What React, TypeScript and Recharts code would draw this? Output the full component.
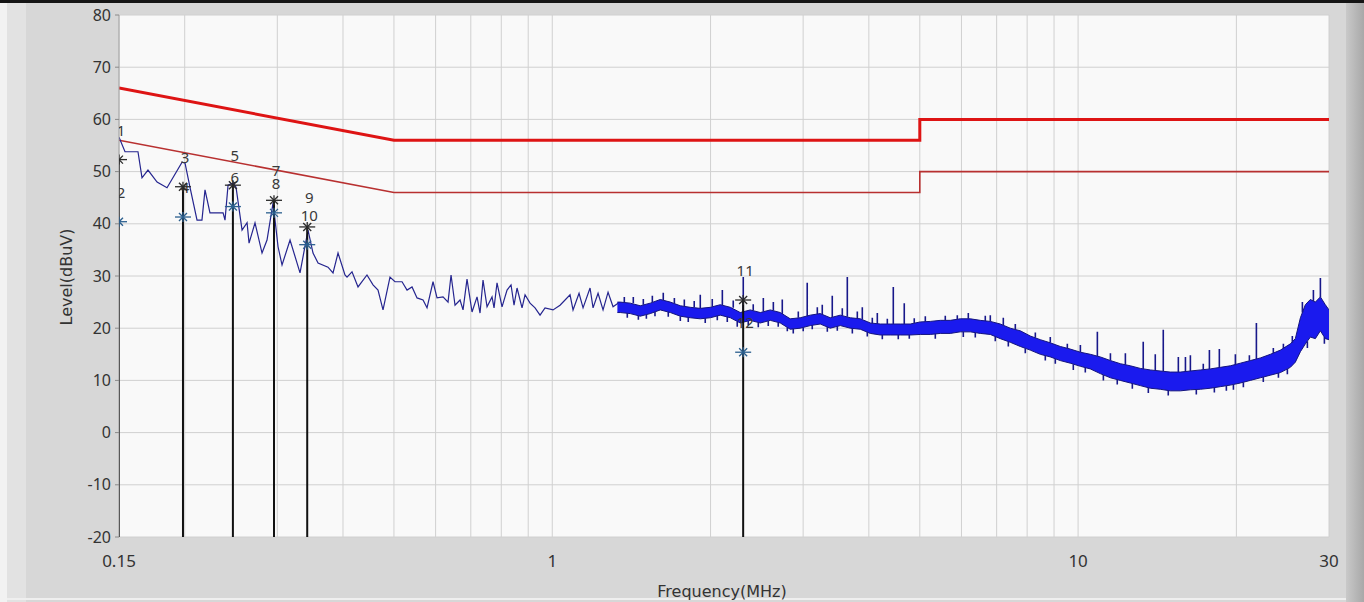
import React from "react";
import { Area, CartesianGrid, ComposedChart, Label, Line, Scatter, XAxis, YAxis } from "recharts";

// axis grid (log decades) and the few labelled ticks
const xGrid = [0.15, 0.2, 0.3, 0.4, 0.5, 0.6, 0.7, 0.8, 0.9, 1, 2, 3, 4, 5, 6, 7, 8, 9, 10, 20, 30];
const xLabels = [0.15, 1, 10, 30];
const yTicks = [-20, -10, 0, 10, 20, 30, 40, 50, 60, 70, 80];

// limit lines (QP thick, AV thin)
const limitFreq = [0.15, 0.5, 5, 5, 30];
const qpLimit = [66, 56, 56, 60, 60];
const avLimit = [56, 46, 46, 50, 50];

// low frequency trace
const traceFreq = [
  0.15, 0.154, 0.163, 0.1659, 0.1703, 0.1772, 0.1851, 0.1977, 0.2003, 0.2047, 0.2111, 0.2157, 0.2186, 0.2234,
  0.2366, 0.2386, 0.2418, 0.2472, 0.2504, 0.2571, 0.2628, 0.2651, 0.2721, 0.2806, 0.2868, 0.2945, 0.301, 0.3063,
  0.3172, 0.3314, 0.3432, 0.3508, 0.3586, 0.3746, 0.3829, 0.3914, 0.4035, 0.4071, 0.4161, 0.4272, 0.4443, 0.4562,
  0.4663, 0.4766, 0.4914, 0.5023, 0.518, 0.5295, 0.5412, 0.5532, 0.5679, 0.5779, 0.5933, 0.6038, 0.6199, 0.6336,
  0.642, 0.6533, 0.6678, 0.6766, 0.6885, 0.7038, 0.7194, 0.7289, 0.7385, 0.7516, 0.7682, 0.775, 0.7852, 0.8026,
  0.8204, 0.8349, 0.8459, 0.8571, 0.8761, 0.8877, 0.9073, 0.9274, 0.9479, 0.9689, 1.0034, 1.0347, 1.081, 1.0953,
  1.1245, 1.1444, 1.18, 1.1956, 1.2221, 1.2491, 1.2768, 1.305, 1.3339
];
const traceLevel = [
  56.6, 53.8, 53.8, 48.8, 50.3, 48.0, 46.9, 51.8, 51.6, 47.0, 40.7, 40.7, 46.5, 42.1,
  42.1, 40.7, 47.4, 47.8, 47.0, 38.8, 40.2, 36.3, 40.2, 34.4, 36.9, 44.0, 35.6, 32.1,
  36.9, 30.6, 38.8, 34.4, 32.5, 31.7, 30.6, 34.4, 30.2, 29.8, 30.8, 27.9, 30.2, 28.3,
  27.3, 23.5, 29.8, 28.9, 28.9, 27.3, 27.9, 25.8, 25.4, 23.9, 28.9, 25.8, 26.0, 25.0,
  30.2, 24.4, 25.4, 23.5, 29.4, 23.1, 26.0, 22.9, 29.2, 24.1, 26.0, 23.9, 28.7, 24.1,
  27.3, 28.3, 24.4, 27.7, 23.9, 26.4, 24.8, 23.9, 22.5, 23.9, 23.5, 24.4, 26.4, 23.5,
  26.7, 23.9, 27.7, 23.9, 26.7, 23.5, 26.9, 24.1, 24.8
];

// dense part of the sweep: noise band envelope
const bandFreq = [
  1.33, 1.347, 1.407, 1.47, 1.536, 1.605, 1.677, 1.752, 1.83, 1.912, 1.998, 2.087, 2.181, 2.278, 2.38, 2.487,
  2.598, 2.714, 2.835, 2.962, 3.095, 3.233, 3.378, 3.53, 3.688, 3.853, 4.026, 4.206, 4.394, 4.59, 4.796, 5.011,
  5.235, 5.469, 5.714, 5.97, 6.237, 6.516, 6.808, 7.113, 7.431, 7.764, 8.111, 8.474, 8.853, 9.25, 9.664, 10.1,
  10.55, 11.02, 11.52, 12.03, 12.57, 13.13, 13.72, 14.33, 14.97, 15.65, 16.35, 17.08, 17.84, 18.64, 19.48, 20.35,
  21.26, 22.21, 23.21, 24.25, 25.33, 25.89, 26.47, 27.05, 27.65, 28.26, 28.89, 29.52, 30
];
const bandLow = [
  23.0, 23.0, 22.8, 22.3, 22.8, 23.5, 23.0, 22.3, 22.0, 21.8, 22.0, 22.5, 22.0, 21.0, 21.5, 21.0,
  21.5, 21.0, 19.8, 20.0, 20.5, 20.8, 20.0, 20.5, 20.0, 19.8, 19.0, 18.7, 18.7, 18.7, 18.7, 18.8,
  18.8, 19.0, 19.0, 19.3, 19.3, 19.0, 18.8, 18.0, 17.3, 16.5, 15.8, 15.0, 14.5, 13.8, 13.3, 12.7,
  12.2, 11.3, 10.5, 10.0, 9.5, 9.0, 8.5, 8.3, 8.0, 8.0, 8.2, 8.3, 8.5, 8.8, 9.1, 9.5,
  10.0, 10.5, 11.0, 11.5, 12.5, 13.5, 15.5, 17.0, 18.3, 18.0, 19.5, 18.0, 17.8
];
const bandHigh = [
  25.0, 25.0, 24.8, 24.3, 24.8, 25.5, 25.0, 24.3, 24.0, 23.8, 24.0, 24.5, 24.0, 23.0, 23.5, 23.0,
  23.5, 23.0, 21.8, 22.0, 22.5, 22.8, 22.0, 22.5, 22.0, 21.8, 21.0, 20.8, 20.8, 20.8, 20.8, 21.2,
  21.3, 21.5, 21.5, 21.8, 21.8, 21.5, 21.3, 20.8, 20.0, 19.5, 18.5, 17.8, 17.2, 16.5, 16.0, 15.4,
  15.0, 14.5, 13.8, 13.2, 12.8, 12.3, 12.0, 11.8, 11.6, 11.6, 11.8, 12.0, 12.2, 12.5, 12.8, 13.3,
  13.8, 14.3, 15.0, 15.8, 17.0, 18.0, 22.0, 24.5, 25.5, 25.0, 26.0, 24.5, 23.5
];

// narrow spikes sticking out of the band (foot -> tip), up and down
const spikeFreq = [
  1.371, 1.389, 1.426, 1.458, 1.49, 1.51, 1.55, 1.568, 1.626, 1.662, 1.707, 1.752, 1.783, 1.814, 1.862,
  1.912, 1.954, 2.015, 2.06, 2.106, 2.152, 2.209, 2.248, 2.308, 2.359, 2.411, 2.465, 2.52, 2.575, 2.633,
  2.69, 2.738, 2.799, 2.873, 2.937, 3.001, 3.054, 3.122, 3.192, 3.262, 3.335, 3.408, 3.484, 3.561, 3.64,
  3.721, 3.803, 3.887, 3.973, 4.061, 4.151, 4.243, 4.337, 4.452, 4.55, 4.671, 4.775, 4.88,
  5.122, 5.351, 5.59, 5.892, 6.049, 6.183, 6.375, 6.66, 6.808, 6.958, 7.207, 7.367, 7.596, 7.935, 8.292,
  8.662, 8.853, 9.05, 9.539, 9.792, 10.1, 10.32, 10.88, 11.17, 11.52, 11.87, 12.3, 12.68, 13.3, 13.6,
  14.02, 14.52, 14.84, 15.51, 16.0, 16.35, 16.78, 17.3, 17.77, 18.16, 18.56, 19.14, 19.74, 19.91, 20.62,
  21.17, 21.83, 22.5, 23.51, 24.04, 24.57, 25.0, 25.55, 26.7, 27.29, 28.02, 28.89, 29.4
];
const spikeFoot = [
  25.0, 22.9, 24.8, 22.4, 24.5, 22.6, 25.0, 23.1, 25.4, 23.1, 24.8, 22.3, 24.2, 22.1, 24.0,
  23.8, 21.9, 24.1, 22.4, 24.4, 22.2, 23.9, 21.3, 23.1, 21.4, 23.4, 21.1, 23.2, 21.4, 23.4,
  21.1, 22.7, 20.2, 19.9, 22.0, 20.2, 22.3, 20.6, 22.7, 22.6, 20.3, 22.1, 20.4, 22.4, 22.2,
  20.0, 21.9, 21.7, 19.3, 20.9, 20.8, 18.7, 20.8, 20.8, 18.7, 20.8, 18.7, 20.9,
  21.25, 18.9, 21.5, 21.7, 19.3, 21.8, 19.15, 21.4, 21.3, 18.4, 20.6, 17.4, 19.75, 16.15, 18.15,
  14.75, 17.2, 14.15, 16.15, 13.1, 15.4, 12.45, 14.6, 11.05, 13.8, 10.15, 13.0, 9.4, 12.2, 8.6,
  11.9, 11.75, 8.05, 11.6, 11.7, 11.8, 8.25, 12.05, 12.2, 8.6, 12.5, 9.0, 9.2, 12.9, 9.65,
  13.75, 14.1, 10.65, 15.25, 11.4, 16.1, 12.2, 17.2, 23.0, 17.5, 25.2, 26.0, 18.3
];
const spikeTip = [
  26.0, 22.0, 26.0, 21.6, 25.6, 21.8, 26.2, 22.3, 26.8, 22.2, 25.8, 21.4, 25.5, 21.2, 25.2,
  26.4, 21.0, 25.6, 21.5, 27.3, 21.2, 25.3, 20.3, 29.8, 20.5, 24.6, 20.2, 25.8, 20.4, 25.0,
  20.3, 25.5, 19.4, 19.0, 23.2, 19.4, 28.7, 19.8, 24.0, 24.5, 19.3, 26.2, 19.5, 23.8, 29.8,
  19.0, 23.2, 24.0, 18.4, 22.0, 22.9, 17.9, 21.8, 27.9, 17.9, 24.8, 18.0, 21.9,
  22.3, 18.0, 22.4, 22.5, 18.3, 22.9, 18.2, 22.4, 22.5, 17.5, 22.0, 16.5, 20.8, 15.2, 19.2,
  13.8, 18.3, 13.2, 17.0, 12.0, 16.8, 11.5, 19.3, 10.0, 15.2, 9.2, 15.2, 8.4, 17.4, 7.6,
  15.0, 19.7, 7.1, 14.5, 14.5, 14.8, 7.3, 13.2, 15.8, 7.7, 16.0, 8.0, 8.2, 15.0, 8.7,
  14.8, 21.0, 9.7, 16.2, 10.5, 17.0, 11.2, 18.5, 25.0, 16.2, 27.3, 29.6, 17.0
];

// markers: odd = QP reading, even = AV reading
const markerFreq = [0.15, 0.15, 0.1985, 0.1985, 0.247, 0.247, 0.2957, 0.2957, 0.342, 0.342, 2.307, 2.307];
const markerLevel = [52.3, 40.4, 47.1, 41.3, 47.4, 43.3, 44.5, 42.1, 39.4, 36.0, 25.4, 15.4];

const qpData = limitFreq.map((f, i) => ({ f, v: qpLimit[i] }));
const avData = limitFreq.map((f, i) => ({ f, v: avLimit[i] }));
const traceData = traceFreq.map((f, i) => ({ f, v: traceLevel[i] }));
const bandData = bandFreq.map((f, i) => ({ f, r: [bandLow[i], bandHigh[i]] }));
const spikeData = spikeFreq.flatMap((f, i) => [
  { f, v: spikeFoot[i] },
  { f, v: spikeTip[i] },
  { f, v: null }
]);
const markerData = markerFreq.map((f, i) => ({ f, v: markerLevel[i], n: i + 1, qp: i % 2 === 0 }));
const stemData = markerData
  .filter((m) => m.qp)
  .flatMap((m) => [
    { f: m.f, v: m.v },
    { f: m.f, v: -20 },
    { f: m.f, v: null }
  ]);

function MarkerShape(props: any) {
  const { cx, cy, payload } = props;
  const c = payload.qp ? "#2a2a2a" : "#2b5f8e";
  return (
    <g stroke={c} strokeWidth={1.3}>
      <line x1={cx - 8} y1={cy} x2={cx + 8} y2={cy} />
      <line x1={cx - 4} y1={cy - 4} x2={cx + 4} y2={cy + 4} />
      <line x1={cx - 4} y1={cy + 4} x2={cx + 4} y2={cy - 4} />
      <line x1={cx} y1={cy - 5} x2={cx} y2={cy + 5} />
    </g>
  );
}

function MarkerLabel(props: any) {
  const { cx, cy, payload } = props;
  return (
    <text x={cx + 2} y={cy - 30} textAnchor="middle" dominantBaseline="central" fontSize={15} fill="#3a3a3a">
      {payload.n}
    </text>
  );
}

const titleFont = "'DejaVu Sans', sans-serif";

export default function App() {
  return (
    <div
      style={{
        position: "absolute",
        left: 0,
        top: 0,
        width: 1364,
        height: 602,
        background: "#d7d7d7",
        overflow: "hidden",
        fontFamily: "'Noto Sans', sans-serif"
      }}
    >
      <div style={{ position: "absolute", left: 0, top: 0, width: 1364, height: 3, background: "#151515" }} />
      <div style={{ position: "absolute", left: 0, top: 3, width: 7, height: 599, background: "#f2f2f2" }} />
      <div style={{ position: "absolute", left: 7, top: 3, width: 19, height: 599, background: "#e2e2e2" }} />
      <div
        style={{
          position: "absolute",
          left: 1346,
          top: 3,
          width: 18,
          height: 599,
          background: "linear-gradient(to right, #c9c9c9, #a8a8a8)"
        }}
      />
      <div style={{ position: "absolute", left: 7, top: 598, width: 1339, height: 2, background: "#efefef" }} />

      <div style={{ position: "absolute", left: 0, top: 0 }}>
        <ComposedChart width={1364} height={602} margin={{ top: 15, right: 35, bottom: 25, left: 59 }}>
          <CartesianGrid fill="#f9f9f9" stroke="#d0d0d0" />
          <XAxis
            dataKey="f"
            type="number"
            scale="log"
            domain={[0.15, 30]}
            allowDataOverflow
            ticks={xGrid}
            interval={0}
            tickFormatter={(v) => (xLabels.includes(v) ? String(v) : "")}
            tickLine={false}
            tickSize={0}
            tickMargin={18}
            axisLine={false}
            height={40}
            tick={{ fontSize: 17, fill: "#333" }}
          >
            <Label
              content={() => (
                <text
                  x={722}
                  y={591}
                  textAnchor="middle"
                  dominantBaseline="central"
                  fontSize={16}
                  fontFamily={titleFont}
                  fill="#333"
                >
                  Frequency(MHz)
                </text>
              )}
            />
          </XAxis>
          <YAxis
            type="number"
            domain={[-20, 80]}
            allowDataOverflow
            ticks={yTicks}
            interval={0}
            width={60}
            tickSize={4}
            tickMargin={4}
            tickLine={{ stroke: "#8a8a8a" }}
            axisLine={{ stroke: "#a0a0a0" }}
            tick={{ fontSize: 16, fill: "#333" }}
          >
            <Label
              content={() => (
                <text
                  x={66}
                  y={277}
                  transform="rotate(-90 66 277)"
                  textAnchor="middle"
                  dominantBaseline="central"
                  fontSize={16}
                  fontFamily={titleFont}
                  fill="#333"
                >
                  Level(dBuV)
                </text>
              )}
            />
          </YAxis>

          <Line data={qpData} dataKey="v" stroke="#de1414" strokeWidth={3} dot={false} isAnimationActive={false} />
          <Line data={avData} dataKey="v" stroke="#b83030" strokeWidth={1.6} dot={false} isAnimationActive={false} />

          <Area
            data={bandData}
            dataKey="r"
            type="linear"
            stroke="#14147e"
            strokeWidth={1}
            fill="#1a1aee"
            fillOpacity={1}
            dot={false}
            activeDot={false}
            isAnimationActive={false}
          />
          <Line
            data={spikeData}
            dataKey="v"
            stroke="#18188a"
            strokeWidth={1.6}
            dot={false}
            activeDot={false}
            isAnimationActive={false}
          />
          <Line
            data={traceData}
            dataKey="v"
            type="linear"
            stroke="#25258f"
            strokeWidth={1.2}
            dot={false}
            activeDot={false}
            isAnimationActive={false}
          />

          <Line data={stemData} dataKey="v" stroke="#111" strokeWidth={2} dot={false} activeDot={false} isAnimationActive={false} />
          <Scatter data={markerData} dataKey="v" shape={MarkerLabel} isAnimationActive={false} />
          <Scatter data={markerData} dataKey="v" shape={MarkerShape} isAnimationActive={false} />
        </ComposedChart>
      </div>
    </div>
  );
}
